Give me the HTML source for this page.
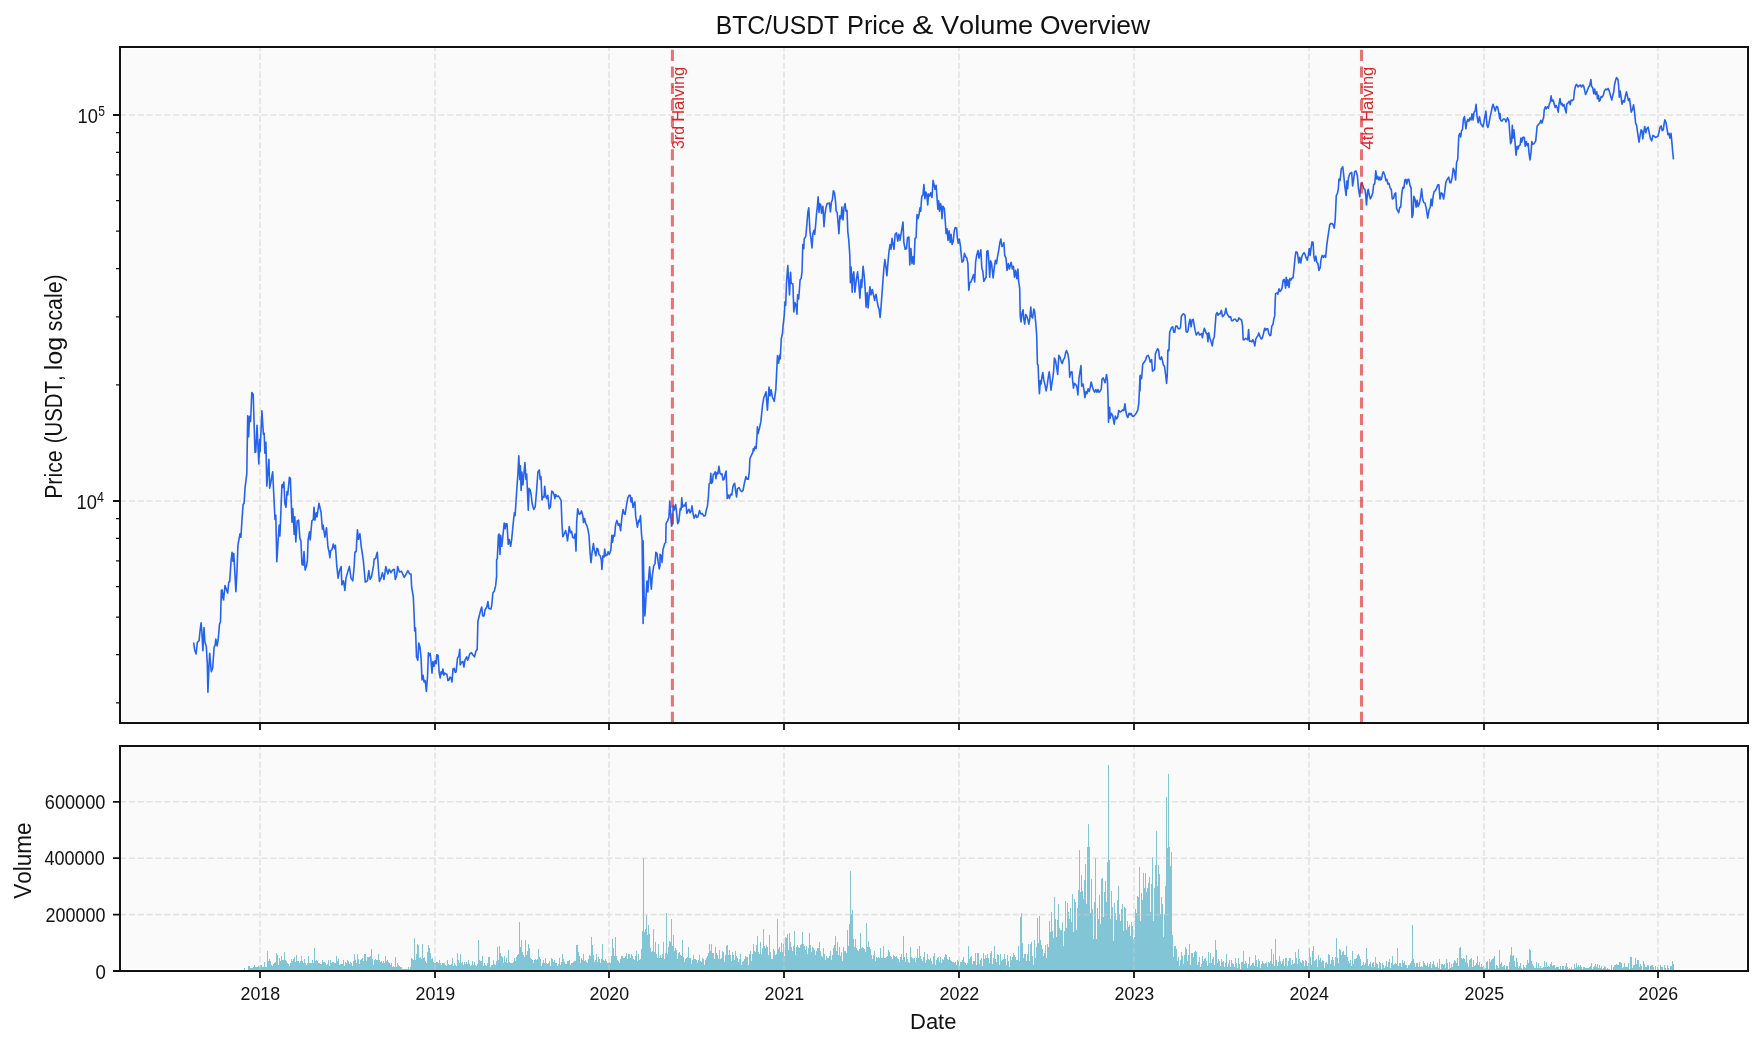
<!DOCTYPE html>
<html><head><meta charset="utf-8"><title>BTC/USDT Price &amp; Volume Overview</title>
<style>html,body{margin:0;padding:0;background:#fff}svg{display:block;will-change:transform}text{font-family:"Liberation Sans",sans-serif;font-kerning:none}</style></head>
<body>
<svg width="1762" height="1049" viewBox="0 0 1762 1049">
<rect width="1762" height="1049" fill="#fff"/>
<rect x="121.8" y="49" width="1624.1" height="671.8" fill="#fafafa"/>
<rect x="121.8" y="748.2" width="1624.1" height="220.6" fill="#fafafa"/>
<path d="M243 970.9V970.1h1V968.1h1V970.1h1V969.5h1V969.5h1V966.1h1V966.1h1V968.1h1V968.1h1V968.1h1V967.4h1V965.4h1V966.7h1V966.7h1V966.7h1V966.1h1V967.4h1V965.4h1V965.1h1V967.4h1V966.7h1V962.0h1V967.4h1V966.7h1V951.1h1V960.6h1V958.8h1V961.3h1V964.7h1V966.1h1V964.0h1V962.7h1V962.0h1V953.1h1V954.5h1V964.7h1V957.9h1V960.6h1V955.8h1V959.9h1V959.9h1V951.8h1V959.9h1V961.3h1V962.7h1V964.0h1V966.1h1V962.7h1V959.3h1V961.3h1V958.6h1V957.2h1V962.0h1V955.2h1V960.6h1V960.6h1V962.7h1V961.3h1V955.8h1V960.6h1V962.7h1V958.8h1V962.7h1V964.7h1V963.3h1V955.8h1V963.3h1V962.7h1V963.3h1V959.9h1V963.3h1V947.9h1V961.3h1V959.9h1V960.6h1V963.3h1V963.3h1V964.0h1V964.0h1V959.9h1V962.0h1V962.0h1V963.3h1V964.7h1V964.0h1V959.9h1V966.1h1V959.9h1V963.3h1V962.0h1V962.0h1V963.3h1V963.3h1V955.8h1V960.6h1V958.6h1V964.7h1V964.0h1V964.0h1V964.0h1V959.9h1V966.1h1V962.0h1V963.3h1V959.9h1V961.3h1V964.0h1V962.0h1V962.7h1V966.1h1V961.3h1V953.8h1V959.9h1V963.3h1V954.1h1V958.8h1V964.0h1V959.9h1V959.3h1V957.9h1V961.3h1V954.1h1V954.1h1V960.6h1V957.2h1V956.5h1V956.5h1V955.8h1V949.0h1V958.6h1V964.7h1V959.9h1V959.3h1V959.9h1V959.9h1V953.8h1V959.9h1V962.0h1V961.3h1V962.7h1V961.3h1V962.7h1V955.8h1V960.6h1V959.9h1V962.0h1V962.7h1V964.7h1V963.3h1V966.7h1V966.1h1V966.7h1V956.9h1V966.7h1V962.9h1V964.7h1V966.1h1V967.4h1V967.4h1V968.5h1V969.2h1V969.2h1V969.2h1V969.2h1V969.2h1V966.7h1V968.8h1V967.4h1V957.9h1V959.3h1V959.9h1V938.1h1V959.9h1V953.8h1V943.9h1V944.9h1V957.9h1V957.2h1V958.6h1V943.9h1V957.9h1V957.2h1V960.6h1V962.7h1V951.8h1V944.9h1V947.7h1V953.1h1V958.6h1V957.9h1V962.0h1V963.3h1V962.7h1V962.0h1V962.0h1V962.9h1V959.9h1V963.3h1V964.7h1V962.7h1V963.3h1V962.9h1V965.1h1V966.1h1V959.9h1V964.0h1V964.7h1V964.7h1V964.0h1V957.9h1V966.1h1V962.7h1V964.7h1V966.1h1V953.1h1V959.9h1V963.3h1V954.1h1V962.7h1V962.0h1V965.4h1V962.0h1V964.0h1V961.6h1V964.0h1V959.9h1V964.0h1V966.1h1V965.4h1V960.6h1V965.4h1V962.0h1V964.7h1V966.1h1V964.0h1V939.8h1V959.9h1V960.6h1V961.3h1V955.8h1V966.1h1V963.3h1V965.4h1V966.1h1V963.3h1V956.9h1V957.2h1V966.7h1V965.4h1V965.1h1V959.9h1V964.0h1V964.7h1V961.3h1V947.0h1V959.9h1V946.3h1V953.1h1V955.8h1V957.2h1V962.7h1V956.1h1V962.0h1V957.9h1V962.7h1V950.0h1V962.0h1V962.7h1V962.7h1V962.7h1V962.0h1V957.9h1V961.3h1V957.2h1V955.2h1V953.8h1V921.8h1V947.0h1V939.9h1V951.8h1V955.2h1V956.5h1V939.9h1V954.5h1V951.1h1V943.9h1V948.4h1V957.9h1V958.6h1V959.9h1V962.7h1V959.9h1V959.3h1V959.9h1V958.6h1V949.0h1V957.2h1V959.3h1V966.1h1V962.7h1V959.9h1V962.7h1V957.9h1V962.9h1V964.0h1V962.7h1V961.0h1V966.1h1V957.9h1V958.8h1V962.0h1V959.9h1V962.7h1V963.3h1V966.1h1V964.0h1V957.9h1V964.7h1V962.0h1V954.1h1V958.8h1V962.0h1V964.0h1V964.0h1V961.0h1V961.3h1V959.9h1V965.1h1V962.7h1V962.7h1V962.0h1V961.0h1V960.6h1V944.9h1V944.9h1V952.4h1V956.1h1V963.3h1V957.9h1V959.9h1V954.1h1V960.9h1V959.9h1V962.0h1V962.9h1V958.8h1V955.2h1V956.1h1V936.8h1V944.9h1V954.5h1V962.0h1V959.9h1V954.1h1V962.0h1V956.9h1V958.8h1V962.9h1V958.8h1V943.9h1V959.9h1V960.6h1V958.8h1V961.0h1V962.9h1V963.3h1V962.0h1V962.7h1V955.8h1V938.8h1V947.9h1V955.8h1V936.8h1V955.8h1V959.9h1V960.6h1V962.9h1V958.8h1V955.8h1V956.1h1V957.9h1V957.9h1V955.8h1V953.1h1V958.8h1V954.1h1V954.1h1V957.9h1V954.1h1V956.1h1V958.8h1V959.9h1V955.8h1V951.1h1V960.9h1V954.1h1V959.9h1V958.8h1V949.0h1V931.3h1V858.0h1V932.0h1V929.3h1V915.0h1V934.7h1V925.2h1V934.1h1V947.7h1V952.4h1V951.1h1V928.9h1V952.4h1V942.0h1V954.1h1V957.9h1V943.9h1V957.9h1V954.5h1V957.9h1V953.8h1V942.0h1V958.8h1V953.1h1V912.9h1V953.8h1V947.0h1V940.9h1V942.2h1V919.1h1V946.3h1V935.0h1V951.1h1V947.9h1V950.4h1V958.8h1V953.1h1V951.8h1V954.5h1V955.8h1V939.9h1V957.2h1V962.0h1V958.8h1V957.9h1V957.2h1V947.0h1V957.9h1V957.9h1V964.0h1V959.9h1V954.9h1V958.8h1V958.8h1V959.9h1V962.9h1V959.9h1V954.9h1V961.3h1V962.0h1V957.9h1V958.8h1V965.1h1V959.9h1V957.9h1V955.8h1V953.1h1V943.9h1V951.1h1V943.9h1V953.1h1V953.1h1V958.8h1V947.0h1V953.1h1V954.5h1V958.8h1V950.0h1V958.8h1V957.9h1V951.1h1V952.4h1V962.0h1V954.9h1V946.3h1V944.9h1V954.9h1V950.0h1V954.9h1V960.9h1V951.8h1V954.9h1V959.9h1V951.1h1V955.8h1V957.9h1V962.0h1V958.8h1V954.1h1V965.1h1V962.0h1V961.3h1V958.8h1V955.8h1V957.2h1V956.9h1V964.7h1V954.1h1V951.1h1V960.9h1V954.1h1V943.9h1V951.1h1V952.4h1V944.9h1V936.0h1V952.4h1V953.8h1V942.0h1V954.1h1V947.7h1V928.9h1V946.3h1V947.7h1V944.9h1V947.0h1V954.9h1V935.0h1V951.8h1V958.8h1V958.8h1V949.0h1V951.1h1V954.9h1V953.8h1V919.1h1V949.0h1V947.0h1V951.8h1V942.9h1V951.8h1V943.9h1V955.8h1V937.0h1V938.1h1V934.1h1V949.7h1V933.0h1V942.2h1V947.0h1V951.1h1V946.3h1V931.1h1V954.9h1V947.0h1V944.9h1V947.0h1V947.7h1V944.9h1V943.6h1V932.0h1V943.9h1V946.3h1V949.7h1V946.3h1V953.8h1V947.7h1V933.0h1V944.9h1V951.8h1V947.0h1V948.4h1V949.7h1V954.9h1V951.1h1V947.9h1V947.7h1V942.0h1V951.1h1V955.8h1V956.9h1V947.9h1V953.8h1V959.9h1V955.8h1V957.9h1V957.9h1V955.8h1V951.1h1V959.9h1V954.9h1V947.9h1V944.9h1V936.0h1V951.1h1V942.0h1V954.9h1V947.0h1V955.8h1V951.8h1V960.9h1V947.0h1V951.1h1V951.1h1V953.1h1V930.0h1V946.3h1V924.2h1V871.0h1V913.6h1V909.9h1V938.8h1V947.0h1V938.8h1V947.9h1V950.0h1V951.1h1V949.0h1V933.0h1V947.9h1V947.0h1V947.7h1V949.0h1V951.8h1V923.2h1V947.0h1V940.9h1V947.0h1V949.0h1V954.9h1V958.8h1V954.9h1V951.1h1V960.9h1V956.9h1V957.9h1V956.9h1V957.9h1V947.9h1V957.9h1V957.9h1V945.9h1V957.9h1V957.9h1V956.9h1V955.8h1V950.0h1V951.8h1V955.8h1V956.9h1V958.8h1V954.9h1V955.8h1V956.9h1V955.8h1V957.9h1V958.8h1V962.0h1V956.9h1V954.1h1V959.9h1V936.0h1V956.9h1V962.0h1V953.1h1V958.8h1V962.0h1V962.9h1V947.0h1V956.9h1V957.9h1V958.8h1V957.9h1V962.0h1V957.9h1V949.0h1V957.9h1V945.9h1V955.8h1V958.8h1V960.9h1V956.9h1V951.8h1V962.9h1V959.9h1V954.1h1V958.8h1V959.9h1V957.9h1V960.9h1V964.0h1V955.8h1V953.1h1V965.1h1V959.9h1V957.9h1V956.9h1V962.0h1V956.9h1V962.9h1V958.8h1V959.9h1V956.9h1V954.1h1V954.9h1V958.8h1V959.9h1V956.9h1V959.9h1V960.9h1V962.0h1V962.0h1V962.9h1V962.0h1V965.1h1V959.9h1V960.9h1V966.1h1V962.0h1V962.0h1V959.9h1V956.9h1V962.0h1V962.9h1V965.1h1V962.9h1V945.9h1V958.8h1V956.9h1V955.8h1V964.0h1V960.9h1V960.9h1V953.1h1V965.1h1V953.1h1V953.1h1V964.0h1V959.9h1V957.9h1V966.1h1V953.1h1V958.8h1V954.9h1V957.9h1V954.1h1V957.9h1V962.9h1V953.1h1V951.1h1V964.0h1V957.9h1V945.9h1V958.8h1V962.0h1V954.1h1V954.9h1V965.1h1V954.1h1V960.9h1V959.9h1V958.8h1V954.1h1V958.8h1V965.1h1V954.9h1V960.9h1V967.0h1V955.8h1V959.9h1V956.9h1V953.1h1V954.9h1V956.9h1V959.9h1V959.9h1V945.9h1V960.9h1V917.0h1V912.9h1V942.9h1V957.9h1V954.1h1V954.1h1V960.9h1V954.1h1V943.9h1V960.9h1V943.9h1V942.0h1V955.8h1V965.1h1V939.9h1V957.9h1V947.0h1V918.0h1V942.9h1V915.9h1V939.9h1V944.9h1V949.0h1V955.8h1V953.1h1V944.9h1V957.9h1V943.9h1V946.7h1V921.0h1V932.0h1V912.1h1V931.0h1V937.8h1V896.9h1V918.9h1V936.7h1V920.0h1V904.2h1V927.8h1V929.9h1V929.9h1V922.1h1V945.6h1V931.0h1V901.1h1V927.8h1V903.2h1V912.1h1V918.9h1V907.9h1V922.1h1V894.1h1V931.8h1V899.2h1V902.1h1V929.7h1V907.9h1V890.1h1V850.0h1V892.2h1V875.1h1V891.1h1V899.0h1V880.1h1V864.1h1V903.9h1V847.1h1V824.0h1V846.6h1V912.9h1V879.1h1V908.9h1V938.8h1V902.1h1V858.1h1V938.8h1V907.9h1V918.9h1V895.1h1V923.6h1V879.1h1V878.3h1V916.8h1V892.2h1V881.2h1V901.9h1V862.3h1V765.0h1V860.2h1V918.9h1V891.1h1V907.1h1V940.7h1V903.0h1V913.1h1V919.7h1V900.0h1V886.1h1V914.0h1V920.8h1V909.2h1V904.2h1V930.8h1V907.1h1V908.1h1V929.7h1V921.0h1V926.8h1V925.2h1V935.7h1V922.1h1V925.7h1V938.6h1V936.7h1V908.9h1V912.9h1V896.1h1V896.9h1V867.0h1V920.8h1V893.0h1V899.7h1V873.1h1V888.0h1V873.1h1V892.0h1V888.0h1V883.3h1V877.2h1V911.9h1V884.1h1V857.3h1V920.8h1V888.0h1V865.1h1V831.0h1V886.1h1V865.1h1V874.4h1V914.0h1V897.1h1V904.2h1V936.7h1V914.0h1V886.1h1V797.0h1V847.5h1V774.1h1V847.1h1V866.0h1V852.1h1V935.1h1V956.9h1V945.9h1V946.3h1V949.0h1V960.9h1V956.9h1V966.1h1V959.9h1V951.8h1V955.8h1V964.0h1V954.9h1V947.0h1V949.0h1V960.9h1V954.9h1V943.9h1V965.1h1V953.1h1V953.1h1V956.9h1V951.8h1V951.1h1V952.4h1V965.1h1V962.0h1V956.9h1V967.0h1V964.0h1V955.8h1V960.9h1V958.8h1V957.9h1V960.9h1V966.1h1V951.8h1V962.9h1V953.1h1V962.9h1V958.8h1V957.2h1V965.1h1V939.9h1V950.0h1V962.9h1V958.8h1V960.9h1V966.1h1V958.8h1V962.0h1V960.9h1V967.0h1V962.9h1V954.1h1V967.0h1V964.0h1V959.9h1V967.0h1V959.9h1V962.9h1V964.0h1V967.0h1V957.9h1V962.9h1V968.1h1V957.9h1V964.0h1V969.1h1V962.0h1V962.0h1V951.1h1V964.0h1V960.9h1V962.9h1V968.1h1V964.0h1V956.9h1V966.1h1V965.1h1V962.9h1V963.3h1V966.1h1V954.9h1V959.9h1V967.0h1V958.8h1V960.9h1V968.1h1V964.0h1V960.9h1V962.9h1V964.0h1V962.9h1V962.0h1V967.0h1V962.0h1V962.9h1V960.9h1V949.0h1V964.0h1V954.1h1V966.1h1V939.1h1V959.9h1V966.1h1V962.0h1V955.8h1V960.9h1V964.0h1V960.9h1V958.8h1V966.1h1V957.9h1V957.9h1V966.1h1V960.9h1V957.9h1V957.9h1V965.1h1V959.9h1V964.0h1V963.3h1V951.8h1V957.9h1V964.0h1V949.0h1V958.8h1V962.0h1V962.9h1V959.9h1V960.9h1V966.1h1V959.9h1V960.9h1V966.1h1V962.9h1V947.9h1V956.9h1V965.1h1V951.1h1V945.9h1V960.9h1V959.9h1V958.8h1V967.0h1V954.9h1V959.9h1V957.9h1V962.0h1V959.9h1V960.9h1V968.1h1V962.9h1V962.0h1V964.0h1V954.1h1V954.9h1V964.0h1V959.9h1V956.9h1V959.9h1V966.1h1V956.9h1V938.1h1V957.9h1V962.9h1V949.0h1V950.0h1V954.9h1V951.8h1V951.1h1V954.9h1V954.9h1V945.9h1V956.9h1V960.9h1V962.9h1V959.9h1V966.1h1V951.1h1V964.0h1V958.8h1V958.8h1V957.9h1V954.9h1V954.1h1V955.8h1V958.8h1V966.1h1V965.1h1V962.0h1V965.1h1V962.9h1V947.9h1V958.8h1V966.1h1V964.0h1V962.0h1V967.0h1V962.9h1V962.0h1V967.0h1V956.9h1V962.9h1V964.0h1V968.1h1V962.0h1V962.9h1V969.1h1V962.9h1V965.1h1V968.1h1V966.1h1V960.9h1V967.0h1V962.0h1V958.8h1V968.1h1V962.9h1V955.8h1V965.1h1V964.0h1V962.9h1V964.0h1V947.9h1V966.1h1V962.9h1V962.9h1V967.0h1V959.9h1V962.9h1V960.9h1V965.1h1V965.1h1V968.1h1V965.1h1V965.1h1V962.9h1V960.9h1V924.9h1V958.8h1V962.9h1V967.0h1V962.9h1V962.9h1V967.0h1V962.0h1V967.0h1V966.1h1V967.0h1V960.9h1V962.9h1V965.1h1V966.1h1V962.9h1V967.0h1V964.0h1V962.0h1V968.1h1V964.0h1V960.9h1V965.1h1V967.0h1V967.0h1V962.9h1V968.1h1V958.8h1V969.1h1V964.0h1V964.0h1V965.1h1V964.0h1V968.1h1V958.8h1V962.9h1V969.1h1V962.0h1V968.1h1V964.0h1V967.0h1V962.9h1V959.9h1V960.9h1V962.9h1V957.9h1V966.1h1V947.9h1V947.0h1V957.9h1V958.8h1V957.9h1V958.8h1V962.0h1V954.9h1V962.9h1V967.0h1V959.9h1V958.8h1V957.9h1V967.0h1V959.9h1V966.1h1V965.1h1V962.9h1V955.8h1V965.1h1V962.0h1V967.0h1V964.0h1V967.0h1V966.1h1V969.1h1V968.1h1V962.0h1V960.9h1V969.1h1V958.8h1V962.0h1V959.9h1V958.8h1V957.9h1V955.8h1V969.1h1V965.1h1V966.1h1V968.1h1V950.0h1V964.0h1V962.0h1V967.0h1V966.1h1V965.1h1V969.1h1V966.1h1V966.1h1V969.1h1V962.0h1V954.9h1V947.0h1V955.8h1V954.9h1V960.9h1V967.0h1V957.9h1V962.0h1V968.1h1V966.1h1V962.9h1V968.1h1V969.1h1V965.1h1V967.0h1V968.1h1V965.1h1V959.9h1V962.9h1V949.0h1V950.0h1V960.9h1V964.0h1V966.1h1V968.1h1V968.1h1V962.0h1V968.1h1V962.9h1V968.1h1V966.1h1V968.1h1V968.1h1V967.0h1V960.9h1V967.0h1V962.0h1V967.0h1V966.1h1V967.0h1V964.0h1V962.0h1V966.1h1V965.1h1V965.1h1V968.1h1V967.0h1V967.0h1V967.0h1V969.1h1V966.1h1V969.1h1V966.1h1V966.1h1V969.1h1V966.1h1V962.9h1V967.0h1V969.1h1V968.1h1V969.1h1V967.0h1V969.1h1V969.1h1V964.0h1V968.1h1V962.9h1V967.0h1V965.1h1V967.0h1V965.1h1V967.0h1V969.1h1V967.0h1V967.0h1V968.1h1V968.1h1V968.1h1V968.1h1V967.0h1V966.1h1V962.9h1V969.1h1V967.0h1V966.1h1V964.0h1V967.0h1V964.0h1V968.1h1V965.1h1V968.1h1V966.1h1V969.1h1V968.1h1V966.1h1V967.0h1V969.1h1V968.1h1V969.1h1V969.1h1V969.5h1V965.1h1V969.5h1V967.0h1V965.1h1V965.1h1V964.0h1V965.1h1V965.1h1V962.0h1V962.0h1V962.9h1V968.1h1V967.0h1V962.9h1V967.0h1V967.0h1V967.0h1V962.9h1V969.1h1V957.2h1V957.2h1V967.8h1V965.4h1V965.1h1V957.9h1V963.7h1V960.0h1V960.0h1V967.1h1V964.1h1V966.4h1V969.5h1V961.0h1V964.4h1V967.1h1V967.1h1V965.1h1V965.1h1V969.5h1V966.1h1V965.1h1V965.4h1V967.1h1V969.5h1V966.1h1V969.8h1V967.1h1V969.2h1V969.5h1V965.1h1V967.1h1V967.1h1V969.8h1V965.1h1V968.1h1V969.5h1V965.1h1V968.1h1V969.8h1V966.4h1V965.8h1V961.0h1V964.1h1V970.9Z" fill="#81c5d6" shape-rendering="crispEdges"/>
<path d="M260 723V47M260 971V746M435 723V47M435 971V746M609 723V47M609 971V746M784 723V47M784 971V746M959 723V47M959 971V746M1134 723V47M1134 971V746M1309 723V47M1309 971V746M1484 723V47M1484 971V746M1658 723V47M1658 971V746M120 115H1748M120 501H1748M120 914.6H1748M120 858.2H1748M120 801.8H1748" stroke="#cccccc" stroke-opacity="0.5" stroke-width="1.6" stroke-dasharray="6.17 2.67" fill="none"/>
<path d="M193.6 642.5 194.7 649.9 196.1 654.0 197.3 642.5 199.1 640.4 200.2 629.5 201.1 622.7 201.8 630.9 202.9 650.6 204.0 627.5 204.9 641.8 206.3 646.5 207.3 663.6 207.9 692.2 208.9 667.7 209.7 653.4 211.3 671.8 212.7 667.7 214.1 647.2 215.2 645.2 215.8 639.0 217.1 645.9 218.2 639.7 219.5 624.1 220.5 622.0 221.3 590.4 221.3 600.9 222.0 589.7 223.6 599.9 225.0 585.6 227.7 593.1 228.8 582.2 229.7 581.5 231.1 560.4 232.1 552.2 232.9 561.1 233.8 553.6 234.5 565.9 235.9 591.7 237.0 571.3 237.9 545.4 238.6 541.3 240.0 533.8 240.9 537.2 242.0 519.5 243.1 504.5 244.1 503.2 245.0 488.2 246.8 473.9 247.7 415.7 248.6 436.8 249.5 416.3 250.6 421.5 251.8 392.5 253.2 394.5 255.0 452.5 255.8 451.8 257.0 425.2 258.8 464.0 259.7 439.5 260.1 451.8 261.9 410.9 263.4 434.1 264.2 433.4 264.8 453.1 265.9 442.2 266.8 486.1 268.9 459.3 269.7 488.2 271.0 481.4 272.7 471.8 273.8 495.0 275.0 519.5 275.8 515.4 276.8 561.8 278.1 541.3 279.2 525.0 279.9 535.9 280.6 519.5 281.9 484.8 282.5 487.5 283.9 482.0 284.9 503.8 286.0 507.2 287.0 491.6 287.7 495.0 289.4 477.3 290.4 478.6 292.0 522.2 292.8 508.6 294.2 534.5 294.8 516.8 295.8 542.0 297.2 520.9 298.6 520.2 299.9 538.6 300.9 540.6 302.0 564.5 303.1 565.2 304.0 551.5 305.1 569.9 306.5 565.9 307.4 560.4 308.1 540.0 309.5 531.8 310.2 540.0 311.9 520.9 313.3 519.5 314.0 507.2 314.9 520.2 316.3 512.7 317.0 516.8 319.0 503.2 321.1 512.7 322.4 529.1 323.1 525.0 324.9 537.2 326.5 527.7 327.9 546.8 329.0 551.5 329.9 557.7 330.6 550.9 332.0 549.5 333.3 544.0 334.7 548.8 335.4 545.4 336.7 565.2 338.1 578.1 339.5 570.6 341.1 566.5 341.9 584.9 343.5 580.8 344.9 590.4 346.0 578.1 348.3 569.9 349.4 566.5 351.0 578.1 352.8 580.8 354.2 565.9 354.9 552.2 356.2 551.5 357.4 529.7 358.5 539.3 359.9 533.8 361.3 546.8 363.3 560.4 365.3 582.2 367.4 580.8 368.8 570.6 370.1 579.5 371.5 576.8 373.5 565.9 374.2 559.0 375.6 558.4 377.3 552.2 378.3 567.2 379.4 581.5 381.0 578.1 382.4 572.7 384.0 579.5 385.8 566.5 387.8 574.0 389.2 569.3 391.0 572.7 392.6 569.9 394.2 569.3 395.3 579.5 396.7 575.4 397.6 566.5 399.4 572.0 401.5 571.3 404.2 577.4 406.2 574.0 407.9 570.6 409.6 574.0 411.0 574.0 411.7 587.7 413.3 596.5 414.1 614.5 414.7 630.9 415.5 628.1 416.5 656.8 417.8 660.2 418.8 643.1 420.0 647.2 420.0 647.2 421.1 658.1 422.0 679.9 423.0 675.2 424.1 682.0 425.2 680.6 426.4 691.5 427.5 677.2 428.4 652.7 429.5 655.4 430.2 653.4 431.2 663.6 432.0 673.1 432.9 661.5 434.0 666.3 435.0 660.9 436.1 663.6 436.8 654.7 438.1 655.4 439.1 671.8 440.2 677.9 441.1 671.8 442.1 673.8 442.9 669.0 443.9 675.2 444.8 673.1 445.9 673.8 447.0 674.5 447.9 680.6 449.0 679.9 450.0 677.2 451.1 677.9 452.0 682.0 453.0 669.0 454.1 668.3 455.2 672.4 456.1 671.8 457.5 658.1 458.8 656.1 459.8 649.3 460.2 664.9 461.6 662.2 462.9 661.5 463.9 667.0 465.0 660.2 466.6 656.8 467.7 660.2 468.8 657.4 469.7 654.0 471.5 652.7 473.2 655.4 474.5 656.8 475.9 651.3 477.2 649.3 477.9 621.3 478.9 617.2 480.6 610.4 481.7 607.0 482.7 615.9 484.1 615.9 485.1 609.7 486.8 607.0 487.9 601.6 488.8 608.4 490.9 609.1 491.8 605.0 492.9 592.7 494.3 591.3 495.6 585.9 496.6 576.4 496.6 559.9 497.3 558.6 498.4 535.4 499.0 534.0 500.0 554.5 500.7 535.4 501.8 546.3 503.1 534.0 504.2 523.1 505.2 528.6 505.9 523.8 507.0 523.8 508.2 544.3 509.3 539.5 510.6 546.3 511.6 540.2 512.7 528.6 513.8 517.7 514.4 512.9 515.1 515.6 516.1 500.0 517.0 486.3 517.9 474.1 518.8 455.7 519.8 479.5 520.4 465.9 521.1 490.4 521.9 472.0 522.9 485.0 523.9 474.1 524.9 462.5 526.0 479.5 526.7 474.1 527.7 497.2 528.3 510.2 529.0 488.4 530.1 489.7 531.1 494.5 532.2 504.1 533.8 509.5 535.2 506.8 536.5 491.8 537.9 472.0 539.3 470.0 540.2 479.5 541.0 476.8 542.0 500.0 543.1 496.6 544.0 497.2 544.7 486.3 545.7 495.9 546.7 498.6 547.8 495.2 549.2 508.8 550.4 506.8 551.8 491.1 552.9 491.8 554.2 495.2 554.9 498.6 555.6 494.5 557.0 496.6 558.3 495.9 559.7 497.9 561.1 500.6 562.0 524.5 562.8 536.8 564.2 534.0 565.6 530.6 566.5 534.0 567.5 540.9 568.6 532.7 569.2 526.5 570.6 532.7 571.6 531.3 572.6 537.4 574.0 538.1 575.0 534.0 576.0 551.1 576.7 521.8 577.7 508.8 579.2 514.3 580.5 513.6 581.5 510.9 582.9 516.3 583.5 522.5 584.6 518.4 585.6 523.1 587.0 525.9 587.9 529.3 589.0 535.4 590.1 553.1 591.0 562.7 592.0 553.1 593.4 543.6 594.4 550.4 595.8 555.8 596.9 548.3 597.9 549.0 598.9 554.5 600.2 555.8 601.3 559.9 601.9 569.5 602.9 555.8 604.0 557.2 604.7 549.0 605.6 555.8 607.0 555.2 608.1 551.8 609.2 554.5 610.8 550.4 611.9 535.4 612.6 542.2 613.5 535.4 614.6 536.1 615.6 524.5 616.9 520.4 618.3 525.2 619.4 523.8 620.6 530.6 622.0 516.3 623.1 509.5 624.2 513.6 625.1 514.3 626.5 505.4 627.8 497.9 629.2 495.2 630.3 495.2 631.0 502.0 631.9 497.9 633.0 507.5 633.7 504.1 634.9 502.0 635.7 516.3 636.7 522.5 637.4 527.2 638.7 520.4 639.4 521.8 640.5 515.6 641.5 534.0 642.1 540.2 643.1 623.4 643.1 540.9 644.2 599.5 644.9 615.9 646.2 594.1 646.9 581.1 647.9 592.0 649.0 573.6 649.6 566.8 651.3 589.3 652.4 575.0 653.7 566.1 655.1 563.4 655.8 552.4 656.9 553.1 659.2 568.9 660.0 565.5 660.0 554.2 661.4 556.3 662.0 562.4 663.0 549.5 664.8 543.3 665.7 542.7 666.1 523.6 667.5 520.9 668.9 517.4 669.8 501.1 670.6 514.0 671.6 526.3 672.5 523.6 673.2 505.2 674.3 509.9 675.7 504.5 676.6 512.7 677.7 523.6 678.8 521.5 680.2 508.6 681.1 509.9 681.8 497.7 682.5 507.2 683.9 505.2 684.8 505.9 685.9 502.5 686.8 513.4 687.9 510.6 689.0 509.3 690.0 512.7 691.1 511.3 692.0 505.9 693.1 514.0 694.1 518.1 695.7 514.7 696.8 517.4 697.9 516.8 699.5 510.6 700.9 514.0 702.2 513.4 703.9 516.1 705.4 515.4 706.3 509.9 707.4 506.5 708.4 496.3 709.1 484.1 710.2 482.7 710.8 473.2 711.5 483.4 712.5 482.0 713.2 474.5 714.2 473.8 715.2 471.8 715.9 478.6 717.0 472.5 717.9 473.8 718.9 466.3 720.0 473.2 721.1 474.5 722.0 473.8 723.0 480.0 724.1 479.3 725.1 474.5 726.1 471.1 726.8 488.1 727.2 498.4 728.4 495.0 729.5 498.4 730.6 494.3 731.8 495.0 732.9 486.8 733.9 484.1 734.7 483.4 735.6 490.9 736.6 497.0 737.4 488.8 739.0 487.5 740.7 490.9 741.8 491.6 743.1 490.2 744.5 482.7 745.9 476.6 747.2 479.3 748.3 479.3 749.3 471.8 749.9 458.8 751.0 456.1 752.7 452.7 753.4 448.6 754.0 450.7 755.0 446.6 756.1 448.6 757.0 436.4 757.4 426.8 758.1 433.6 759.5 428.2 760.9 421.4 762.5 405.4 763.9 397.2 764.7 395.8 766.0 391.8 767.4 410.2 769.0 387.0 770.1 395.8 771.1 389.7 772.4 397.2 774.2 401.3 775.8 389.7 776.8 368.6 777.5 355.6 778.6 363.1 779.7 355.0 780.2 359.0 781.3 338.6 782.4 333.8 783.3 323.6 784.3 314.8 785.0 301.8 785.7 305.2 786.5 282.7 787.8 265.6 788.8 282.7 789.5 294.9 790.6 272.4 791.2 283.3 792.9 284.0 793.8 312.0 794.9 302.5 795.9 304.5 797.0 314.1 797.6 294.9 798.7 299.0 800.1 279.9 801.1 278.6 802.0 272.4 802.8 244.5 803.8 248.6 804.2 239.0 805.8 236.3 806.9 224.1 807.9 211.8 808.8 207.7 809.9 230.9 811.0 239.0 812.0 247.9 812.9 233.6 814.0 230.2 814.7 234.3 815.6 225.4 816.7 211.8 817.4 206.3 818.1 196.8 819.0 212.5 819.7 203.6 820.8 205.0 821.5 213.2 822.9 206.3 824.0 226.8 824.9 214.5 826.0 207.7 827.0 203.6 828.3 203.6 829.4 202.9 830.4 211.8 831.4 202.2 832.4 199.5 833.4 190.7 834.4 192.7 835.5 200.9 836.2 211.1 837.2 212.5 838.3 225.4 838.9 233.6 839.9 215.9 841.0 218.6 841.9 207.0 843.0 220.0 844.0 207.7 845.1 203.6 846.0 211.1 847.0 210.4 847.8 231.6 848.8 240.4 849.8 255.4 850.4 282.7 851.1 267.0 852.2 292.2 852.8 275.8 853.8 271.8 854.9 292.2 856.3 279.9 857.6 271.8 858.7 282.7 859.9 298.3 861.0 279.9 861.7 287.4 863.1 266.3 864.2 275.8 865.1 288.1 866.1 307.3 867.2 292.9 868.1 307.9 869.9 286.7 871.0 294.9 872.3 289.5 873.3 294.2 874.7 300.4 874.7 299.0 876.0 294.2 877.0 300.4 878.1 306.6 879.1 309.3 880.1 317.5 881.1 305.9 882.8 282.7 883.8 269.0 884.9 259.5 886.0 267.7 886.9 275.8 887.9 263.6 889.0 251.3 890.1 244.5 891.0 249.3 892.0 238.4 893.0 244.5 894.0 249.3 895.1 234.3 896.5 232.9 897.8 241.1 898.8 234.3 900.0 236.3 900.0 240.4 901.1 233.6 902.0 228.1 903.0 222.0 903.8 241.8 905.2 249.3 906.5 248.6 907.5 237.7 908.9 237.0 909.8 264.9 910.9 248.6 912.0 263.6 912.9 256.8 914.0 264.3 915.0 238.4 916.1 237.7 917.0 214.5 918.1 218.6 919.1 214.5 920.0 207.7 920.7 211.1 921.8 196.1 922.9 195.4 923.9 184.5 924.9 198.8 925.9 192.0 926.8 194.1 927.7 205.0 928.6 194.1 929.7 196.1 930.7 192.7 932.0 197.5 933.1 180.4 934.3 185.9 935.0 189.3 936.1 185.2 937.1 199.5 937.9 209.1 938.6 200.9 939.5 211.1 940.5 203.6 941.2 206.3 942.0 218.6 942.9 206.3 944.3 208.4 945.2 220.0 946.1 233.6 947.0 228.8 948.0 240.4 949.1 230.9 950.2 242.5 951.1 234.3 952.1 244.5 953.2 241.8 954.2 230.9 955.2 227.5 956.6 228.1 957.2 236.3 958.2 243.1 959.3 239.0 960.4 245.9 961.3 255.4 962.0 262.2 963.4 260.9 964.5 253.4 965.7 256.8 966.8 258.1 967.9 263.6 968.8 290.2 969.8 282.7 970.9 282.0 972.2 278.6 973.6 274.5 974.7 282.0 975.6 262.2 976.7 255.4 978.0 250.6 979.0 258.1 980.0 254.0 980.8 249.9 981.8 267.7 982.9 271.8 983.8 281.3 985.2 278.6 986.1 277.2 986.8 251.3 987.9 250.6 988.9 262.2 989.7 277.2 990.6 260.9 991.6 263.6 993.1 277.9 994.3 267.7 995.4 260.2 996.5 263.6 997.4 257.4 998.8 249.9 999.9 242.5 1000.9 239.0 1001.9 246.5 1002.9 245.9 1003.9 242.5 1004.7 255.4 1006.0 258.1 1007.0 270.4 1008.3 263.6 1009.4 269.0 1011.1 262.2 1012.4 269.0 1013.4 266.3 1014.5 277.2 1015.6 270.4 1016.8 278.6 1017.9 269.0 1018.6 281.3 1019.7 288.1 1020.2 315.9 1021.0 322.0 1022.0 313.2 1023.1 309.8 1023.7 318.6 1024.7 324.1 1025.7 314.5 1026.7 315.9 1027.8 319.3 1028.8 324.1 1029.7 319.3 1030.8 307.0 1031.5 316.6 1032.6 317.9 1033.8 309.1 1034.7 311.8 1035.6 321.3 1036.7 335.0 1037.4 364.3 1038.1 365.0 1038.7 381.3 1039.4 393.6 1040.4 380.6 1041.1 384.0 1042.0 376.5 1042.8 372.5 1043.8 379.9 1045.1 385.4 1046.1 390.9 1047.2 385.4 1048.3 377.2 1049.2 371.8 1049.9 377.2 1051.0 390.2 1052.0 382.7 1052.9 377.2 1053.7 370.4 1054.4 358.1 1055.4 360.2 1056.5 366.3 1057.7 374.5 1058.8 355.4 1060.1 357.5 1061.2 361.6 1062.2 363.6 1063.5 359.5 1064.6 358.1 1065.6 352.7 1066.5 350.6 1067.9 354.1 1069.0 360.9 1069.7 377.2 1070.6 372.5 1072.0 371.8 1072.8 382.7 1073.5 388.1 1074.4 383.4 1075.8 384.7 1076.9 386.8 1077.9 394.9 1078.9 378.6 1079.9 372.5 1081.0 365.6 1081.7 386.1 1083.0 384.0 1084.0 390.2 1084.9 397.7 1086.0 391.5 1087.0 393.6 1088.1 388.8 1089.2 391.5 1090.1 388.1 1091.2 382.0 1092.4 386.8 1093.5 390.2 1094.6 392.2 1095.8 389.5 1096.9 392.2 1097.9 389.5 1099.0 392.2 1100.3 390.9 1101.3 388.8 1102.0 379.3 1103.1 377.9 1104.0 379.9 1105.1 382.7 1106.5 374.5 1107.4 379.9 1108.1 399.0 1108.5 422.2 1109.6 407.2 1110.2 418.1 1111.2 413.3 1112.6 415.4 1114.2 424.2 1115.3 416.1 1116.7 418.8 1117.8 416.7 1118.7 410.6 1120.1 412.0 1121.5 411.3 1122.8 409.9 1123.9 410.6 1124.9 403.8 1126.0 412.0 1126.9 416.1 1127.9 417.4 1129.0 413.3 1130.1 414.7 1131.0 413.3 1132.4 416.1 1133.7 416.1 1135.1 414.7 1136.5 412.7 1137.8 409.9 1138.8 403.1 1139.5 388.1 1140.0 375.9 1140.0 390.9 1140.4 375.2 1141.6 378.6 1142.7 364.3 1144.1 362.2 1145.5 360.2 1146.8 356.1 1148.2 355.4 1149.3 358.1 1150.2 362.2 1151.6 359.5 1152.5 371.1 1153.6 370.4 1154.7 369.0 1155.4 354.1 1156.4 351.3 1157.7 348.6 1158.7 350.6 1159.5 358.1 1160.4 359.5 1161.5 356.8 1162.5 360.9 1163.4 365.0 1164.5 366.3 1165.6 374.5 1166.6 383.4 1167.3 374.5 1167.9 350.0 1168.9 350.6 1169.7 332.2 1170.7 329.5 1171.6 327.5 1172.7 326.8 1173.7 332.2 1174.8 332.2 1175.7 326.1 1177.1 326.1 1178.2 328.8 1179.5 328.8 1180.5 327.5 1181.3 316.6 1182.5 314.5 1183.6 313.9 1185.0 315.2 1186.1 331.6 1187.0 332.2 1188.0 330.9 1189.1 322.7 1190.0 319.3 1191.1 326.8 1192.1 320.0 1193.2 319.3 1194.2 325.4 1195.2 330.9 1196.3 335.0 1197.2 333.6 1198.3 332.2 1199.6 335.0 1200.6 334.3 1201.6 333.6 1202.4 337.7 1203.4 332.2 1204.3 328.2 1205.4 330.9 1206.4 333.6 1207.2 333.6 1207.9 341.8 1208.8 332.9 1209.8 337.7 1210.9 341.1 1212.2 345.9 1213.3 339.1 1214.3 337.0 1215.2 325.4 1216.0 314.5 1217.0 312.5 1218.0 315.2 1219.0 313.9 1220.1 313.9 1221.4 310.4 1222.5 316.6 1223.5 315.9 1224.8 313.9 1225.9 308.4 1226.8 313.2 1227.9 315.2 1229.3 317.3 1230.6 316.6 1231.6 320.7 1232.7 320.7 1234.0 319.3 1235.4 319.3 1236.8 321.3 1237.9 320.7 1238.8 317.9 1240.2 319.3 1241.5 320.0 1242.5 325.4 1243.2 339.7 1244.3 339.7 1245.6 338.4 1246.6 339.1 1247.7 339.7 1248.6 329.5 1249.4 341.1 1250.7 341.1 1251.8 341.8 1252.8 339.7 1253.8 341.8 1254.8 345.9 1255.8 339.1 1256.9 337.0 1257.9 335.7 1258.8 332.9 1259.9 336.3 1261.3 339.1 1262.4 337.7 1263.3 334.3 1264.7 328.2 1265.7 330.2 1266.7 328.8 1267.8 328.8 1268.8 333.6 1269.9 335.7 1270.8 335.0 1271.8 326.1 1272.9 324.8 1273.8 319.3 1274.7 315.9 1275.2 300.9 1275.6 293.6 1277.0 292.9 1277.9 294.2 1279.0 288.8 1280.1 291.5 1281.1 290.2 1282.1 288.1 1283.1 280.6 1284.1 279.3 1284.9 282.7 1285.6 288.1 1286.2 277.2 1287.2 285.4 1287.9 279.9 1289.0 287.4 1289.9 278.6 1291.0 279.9 1292.0 277.9 1293.0 277.9 1294.0 269.0 1295.0 258.1 1295.8 252.0 1297.0 252.0 1297.8 255.4 1298.8 262.9 1299.7 257.4 1300.8 262.9 1301.8 256.8 1302.9 254.0 1304.0 252.7 1304.9 254.0 1306.0 257.4 1307.2 260.2 1308.3 255.4 1309.3 248.6 1310.1 255.4 1311.0 248.6 1312.0 241.8 1313.1 242.5 1313.8 255.4 1314.7 260.9 1315.8 256.1 1316.8 262.2 1317.9 263.6 1318.9 270.4 1320.2 267.7 1321.0 259.5 1322.2 255.4 1323.3 257.4 1324.4 255.4 1325.6 257.4 1326.7 245.9 1327.8 237.7 1329.0 229.5 1329.8 224.7 1331.2 223.4 1332.8 224.1 1334.2 228.1 1335.2 220.0 1336.3 195.4 1337.2 194.1 1338.3 189.3 1339.0 179.1 1340.1 180.4 1341.3 168.9 1342.8 166.8 1343.7 175.0 1344.8 185.9 1346.1 195.4 1346.9 181.1 1347.6 188.6 1348.5 177.7 1349.9 173.6 1351.7 172.3 1352.6 185.9 1353.6 179.8 1354.7 171.6 1356.0 170.9 1357.4 175.7 1358.5 188.6 1359.8 196.8 1360.8 185.9 1361.9 182.5 1362.8 185.2 1363.8 188.6 1364.9 189.3 1365.6 194.1 1366.5 205.0 1367.6 191.3 1368.3 189.3 1369.2 194.8 1370.3 198.8 1371.7 196.1 1372.8 192.7 1373.7 184.5 1374.7 183.9 1375.8 170.9 1376.9 179.1 1377.8 176.4 1378.8 179.8 1380.0 177.0 1380.0 179.9 1381.4 179.3 1382.5 173.8 1383.4 171.8 1384.8 175.2 1385.9 180.6 1386.8 179.3 1387.9 184.0 1388.9 183.4 1390.2 188.1 1391.3 189.5 1392.3 199.0 1393.6 198.3 1394.7 193.6 1395.7 192.9 1396.6 208.6 1397.7 210.6 1398.7 212.7 1399.8 207.2 1400.7 207.2 1401.8 193.6 1402.8 187.4 1403.9 188.1 1404.9 179.9 1405.9 179.3 1406.8 184.0 1407.9 179.3 1408.9 179.3 1410.0 185.4 1411.1 188.1 1412.0 217.4 1413.0 214.7 1413.8 196.3 1415.0 199.0 1416.1 207.2 1417.1 200.4 1418.2 206.5 1419.5 203.1 1420.5 197.7 1421.6 188.8 1422.5 197.7 1423.6 202.4 1425.0 203.1 1426.3 208.6 1427.7 218.1 1429.1 209.9 1430.2 207.2 1431.1 199.0 1432.1 205.8 1433.2 195.6 1434.2 191.5 1435.2 190.9 1436.6 188.1 1437.9 184.7 1438.9 184.7 1440.0 199.0 1441.3 192.9 1442.4 193.6 1443.6 199.0 1444.7 192.2 1445.8 182.7 1446.8 179.9 1447.9 178.6 1448.8 177.2 1449.8 182.7 1450.9 182.7 1452.2 177.2 1453.2 168.4 1454.3 170.4 1455.6 179.9 1456.6 162.2 1457.7 159.5 1458.8 135.7 1459.7 133.6 1460.7 137.0 1461.5 130.9 1462.5 129.5 1463.4 119.3 1464.5 116.6 1465.9 128.8 1466.8 122.0 1467.9 119.3 1468.9 121.3 1469.9 117.9 1471.0 120.0 1472.0 113.9 1473.1 120.0 1474.0 112.5 1475.1 111.1 1476.1 104.3 1477.0 115.9 1478.1 122.7 1479.5 116.6 1480.6 123.4 1481.5 124.8 1482.9 126.8 1483.9 122.7 1484.9 116.6 1485.9 111.1 1487.0 125.4 1487.9 127.5 1489.0 123.4 1490.1 116.6 1491.1 112.5 1492.2 107.0 1493.1 104.3 1494.2 107.7 1495.2 111.1 1496.5 106.4 1497.6 107.0 1498.6 111.8 1499.7 118.6 1500.0 113.6 1500.7 120.4 1502.0 121.1 1503.4 119.0 1504.8 119.0 1506.1 121.8 1507.5 117.7 1508.9 121.1 1509.8 134.0 1510.6 143.6 1511.6 141.5 1512.3 125.2 1512.9 138.1 1513.9 129.9 1514.7 138.1 1515.4 147.7 1516.1 155.2 1517.0 146.3 1518.0 149.0 1519.1 145.6 1520.2 144.9 1520.9 138.1 1521.8 142.2 1522.8 137.4 1524.3 137.4 1525.2 146.3 1526.3 141.5 1527.3 145.6 1528.2 143.6 1529.0 153.1 1530.0 159.9 1531.1 151.8 1531.8 141.5 1532.7 144.3 1534.1 143.6 1535.7 140.9 1536.5 132.7 1537.2 125.9 1538.4 124.5 1539.8 123.1 1540.9 120.4 1542.0 123.1 1542.9 119.7 1543.6 117.7 1544.3 109.5 1545.4 106.8 1546.3 108.8 1547.4 106.8 1548.4 108.1 1549.3 104.1 1550.2 102.0 1551.1 95.9 1552.1 101.3 1553.2 100.0 1554.2 104.1 1555.2 107.5 1556.1 105.4 1557.2 107.5 1558.2 112.2 1559.0 104.1 1560.0 98.6 1561.1 104.7 1562.0 103.4 1563.1 106.1 1564.1 104.7 1565.0 108.8 1566.1 112.9 1566.8 104.1 1568.1 102.7 1569.2 101.3 1570.2 104.7 1571.1 100.0 1572.2 100.6 1573.6 99.3 1574.5 90.4 1575.6 85.7 1576.6 84.3 1578.0 87.0 1579.0 85.7 1580.4 85.0 1581.5 87.0 1582.9 85.0 1583.8 86.3 1584.8 91.1 1585.6 94.5 1586.5 92.5 1587.6 89.7 1588.6 87.0 1589.7 85.7 1590.9 79.5 1591.6 86.3 1592.7 87.7 1593.8 93.8 1594.7 89.1 1595.7 94.5 1596.8 91.8 1597.4 98.6 1598.4 95.2 1599.2 101.3 1600.2 100.0 1601.1 96.6 1602.2 97.2 1603.3 95.2 1604.3 91.1 1605.6 89.1 1607.0 89.7 1608.1 88.4 1609.3 91.1 1610.4 95.2 1611.8 100.0 1612.8 95.2 1613.8 91.8 1614.5 85.0 1615.6 80.2 1616.5 77.5 1617.9 79.5 1618.6 85.0 1619.3 97.2 1620.2 91.1 1621.3 98.6 1622.0 104.1 1623.3 100.6 1624.4 102.0 1625.4 95.9 1626.5 91.8 1627.4 95.9 1628.4 100.6 1629.5 98.6 1630.4 105.4 1631.2 112.2 1632.5 109.5 1633.6 104.7 1634.7 113.6 1635.6 123.1 1636.7 125.9 1637.6 132.7 1639.0 142.2 1640.1 135.4 1641.1 129.9 1642.0 130.6 1642.8 138.8 1643.8 132.0 1644.7 126.5 1645.8 132.7 1646.9 128.6 1648.1 127.2 1649.2 132.7 1650.3 138.1 1651.7 140.9 1652.9 135.4 1654.0 136.1 1655.4 137.4 1656.7 136.8 1658.1 136.1 1659.2 131.3 1660.1 127.2 1661.1 125.9 1662.2 130.6 1663.3 129.9 1664.2 123.1 1664.9 119.7 1666.0 122.5 1667.0 128.6 1667.9 134.7 1669.0 133.4 1669.9 138.1 1671.0 133.4 1672.0 143.6 1672.8 153.1 1673.5 159.3" fill="none" stroke="#2563eb" stroke-width="1.6" stroke-linejoin="round"/>
<path d="M672.4 723V47" stroke="#dc2626" stroke-opacity="0.63" stroke-width="3.05" stroke-dasharray="11.15 5.4" fill="none"/>
<path d="M1361.5 723V47" stroke="#dc2626" stroke-opacity="0.63" stroke-width="3.05" stroke-dasharray="11.15 5.4" fill="none"/>
<rect x="120" y="47" width="1628" height="676" fill="none" stroke="#111" stroke-width="2"/>
<rect x="120" y="746" width="1628" height="225" fill="none" stroke="#111" stroke-width="2"/>
<path d="M260 723v7M260 971v7M435 723v7M435 971v7M609 723v7M609 971v7M784 723v7M784 971v7M959 723v7M959 971v7M1134 723v7M1134 971v7M1309 723v7M1309 971v7M1484 723v7M1484 971v7M1658 723v7M1658 971v7M120 115h-7M120 501h-7M120 971h-7M120 914.6h-7M120 858.2h-7M120 801.8h-7" stroke="#111" stroke-width="1.8" fill="none"/>
<path d="M120 702.83h-4M120 654.60h-4M120 617.20h-4M120 586.63h-4M120 560.79h-4M120 538.41h-4M120 518.66h-4M120 384.80h-4M120 316.83h-4M120 268.60h-4M120 231.20h-4M120 200.63h-4M120 174.79h-4M120 152.41h-4M120 132.66h-4" stroke="#111" stroke-width="1.3" fill="none"/>
<text transform="translate(715.67 34.30) scale(0.2472 0.2515)" font-size="100" fill="#111">BTC/USDT</text>
<text transform="translate(847.02 34.30) scale(0.2533 0.2515)" font-size="100" fill="#111">Price</text>
<text transform="translate(912.08 34.30) scale(0.3197 0.2515)" font-size="100" fill="#111">&amp;</text>
<text transform="translate(940.98 34.30) scale(0.2720 0.2515)" font-size="100" fill="#111">Volume</text>
<text transform="translate(1039.95 34.30) scale(0.2644 0.2515)" font-size="100" fill="#111">Overview</text>
<text transform="translate(909.99 1028.80) scale(0.2201 0.2253)" font-size="100" fill="#111">Date</text>
<text transform="translate(240.50 999.80) scale(0.1783 0.1905)" font-size="100" fill="#111">2018</text>
<text transform="translate(415.50 999.80) scale(0.1787 0.1905)" font-size="100" fill="#111">2019</text>
<text transform="translate(589.50 999.80) scale(0.1780 0.1905)" font-size="100" fill="#111">2020</text>
<text transform="translate(764.50 999.80) scale(0.1788 0.1905)" font-size="100" fill="#111">2021</text>
<text transform="translate(939.50 999.80) scale(0.1789 0.1905)" font-size="100" fill="#111">2022</text>
<text transform="translate(1114.50 999.80) scale(0.1784 0.1905)" font-size="100" fill="#111">2023</text>
<text transform="translate(1289.51 999.80) scale(0.1772 0.1905)" font-size="100" fill="#111">2024</text>
<text transform="translate(1464.50 999.80) scale(0.1782 0.1905)" font-size="100" fill="#111">2025</text>
<text transform="translate(1638.50 999.80) scale(0.1784 0.1905)" font-size="100" fill="#111">2026</text>
<text transform="translate(44.78 808.60) scale(0.1817 0.1933)" font-size="100" fill="#111">600000</text>
<text transform="translate(44.49 864.90) scale(0.1805 0.1933)" font-size="100" fill="#111">400000</text>
<text transform="translate(45.60 921.50) scale(0.1792 0.1933)" font-size="100" fill="#111">200000</text>
<text transform="translate(95.57 978.70) scale(0.1862 0.1933)" font-size="100" fill="#111">0</text>
<text transform="translate(77.60 122.90) scale(0.1835 0.2005)" font-size="100" fill="#111">10</text>
<text transform="translate(98.22 116.10) scale(0.1202 0.1497)" font-size="100" fill="#111">5</text>
<text transform="translate(76.60 508.90) scale(0.1835 0.2005)" font-size="100" fill="#111">10</text>
<text transform="translate(97.01 502.00) scale(0.1250 0.1468)" font-size="100" fill="#111">4</text>
<text transform="translate(62.30 498.85) rotate(-90) scale(0.2128 0.2355)" font-size="100" fill="#111">Price</text>
<text transform="translate(62.30 443.26) rotate(-90) scale(0.2037 0.2355)" font-size="100" fill="#111">(USDT,</text>
<text transform="translate(62.30 370.29) rotate(-90) scale(0.2511 0.2355)" font-size="100" fill="#111">log</text>
<text transform="translate(62.30 331.19) rotate(-90) scale(0.2130 0.2355)" font-size="100" fill="#111">scale)</text>
<text transform="translate(31.00 898.80) rotate(-90) scale(0.2256 0.2355)" font-size="100" fill="#111">Volume</text>
<text transform="translate(683.70 148.90) rotate(-90) scale(0.1586 0.1599)" font-size="100" fill="#dc2626">3rd</text>
<text transform="translate(683.70 121.86) rotate(-90) scale(0.1656 0.1599)" font-size="100" fill="#dc2626">Halving</text>
<text transform="translate(1372.70 149.58) rotate(-90) scale(0.1666 0.1599)" font-size="100" fill="#dc2626">4th</text>
<text transform="translate(1372.70 121.86) rotate(-90) scale(0.1656 0.1599)" font-size="100" fill="#dc2626">Halving</text>
</svg>
</body></html>
